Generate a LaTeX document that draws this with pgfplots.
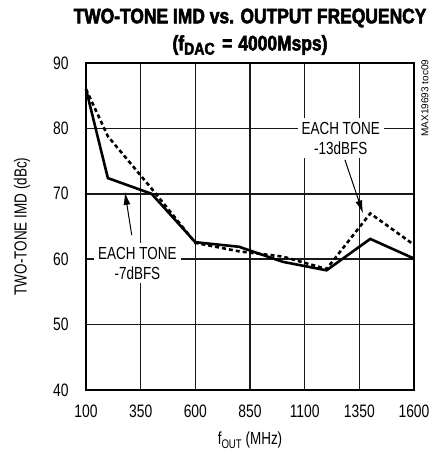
\documentclass[border=0pt]{standalone}
\usepackage{fontspec}
\setmainfont{Liberation Sans}[FakeStretch=0.77]
\newfontfamily\titlefont{Liberation Sans}[FakeStretch=0.83, BoldFeatures={FakeBold=2.5}]
\newfontfamily\plainfont{Liberation Sans}
\usepackage{pgfplots}
\pgfplotsset{compat=1.18}
\usetikzlibrary{arrows.meta}
\begin{document}
\begin{tikzpicture}
\begin{axis}[name=ax, scale only axis, width=328pt, height=327pt,
  xmin=100, xmax=1600, ymin=40, ymax=90,
  xtick={100,350,600,850,1100,1350,1600}, ytick={40,50,60,70,80,90},
  grid=major,
  major grid style={draw=black!90, line width=1.5pt},
  major tick length=0pt,
  axis line style={line width=2.6pt},
  /pgf/number format/assume math mode=true,
  /pgf/number format/1000 sep={},
  ticklabel style={font=\fontsize{18}{18}\selectfont},
  xticklabel style={yshift=-11pt},
  yticklabel style={xshift=-14pt},
  xlabel={f\raisebox{-0.25em}{\fontsize{12.5}{12.5}\selectfont OUT} (MHz)},
  ylabel={TWO-TONE IMD (dBc)},
  label style={font=\fontsize{17.5}{17.5}\selectfont},
  xlabel style={at={([yshift=-50pt]axis description cs:0.5,0)}, anchor=center},
  ylabel style={at={([xshift=-64pt]axis description cs:0,0.5)}, anchor=center},
  clip=false]
\addplot[black, line width=2.6pt] coordinates {(100,86) (200,72.4) (400,70) (600,62.6) (800,61.9) (1000,59.6) (1200,58.3) (1400,63.1) (1600,60.1)};
\addplot[black, line width=2.6pt, dash pattern=on 4pt off 3pt] coordinates {(100,86) (200,78.8) (400,70.8) (600,62.5) (800,61.2) (1000,60.4) (1200,58.5) (1400,67) (1600,62.2)};
\node[fill=white, align=center, inner sep=4pt, font=\fontsize{17.5}{20}\selectfont] at (axis cs:335,59.4) {EACH TONE\\-7dBFS};
\node[fill=white, align=center, inner sep=4pt, font=\fontsize{17.5}{20}\selectfont] at (axis cs:1265,78.5) {EACH TONE\\-13dBFS};
\draw[black, line width=1pt, -{Latex[length=13pt,width=7pt]}] (axis cs:309,63.7) -- (axis cs:278,70.3);
\draw[black, line width=1pt, -{Latex[length=13pt,width=7pt]}] (axis cs:1284,75.2) -- (axis cs:1367,67.0);
\end{axis}
\node[rotate=90, font=\plainfont\fontsize{10}{10}\selectfont] at ([xshift=11pt,yshift=-35pt]ax.north east) {MAX19693 toc09};
\node[font=\titlefont\bfseries\fontsize{21}{21}\selectfont] at ([yshift=45pt]ax.north) {TWO-TONE IMD vs. OUTPUT FREQUENCY};
\node[font=\titlefont\bfseries\fontsize{21}{21}\selectfont] at ([yshift=18pt]ax.north) {(f\raisebox{-0.2em}{\fontsize{17}{17}\selectfont DAC}\hspace{0.12em} = \hspace{0.06em}4000Msps)};
\pgfresetboundingbox
\path (ax.south west) ++(-86pt,-66pt) rectangle ++(442pt,456pt);
\end{tikzpicture}
\end{document}
